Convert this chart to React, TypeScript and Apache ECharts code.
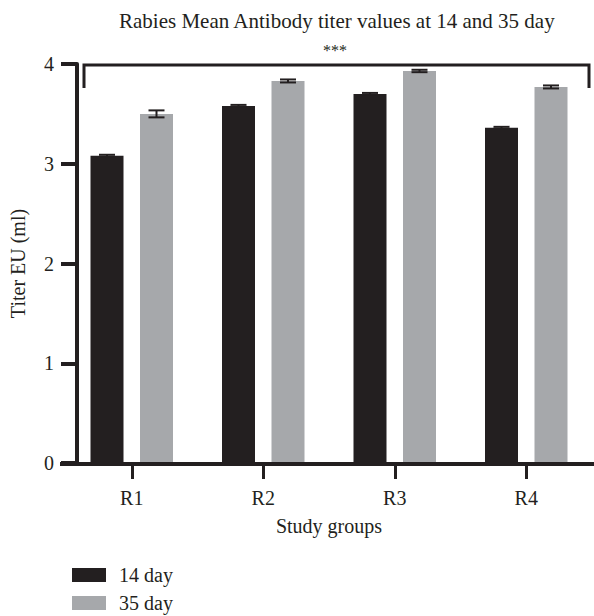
import React, { useEffect, useRef } from "react";
import * as echarts from "echarts";

const categories = ["R1", "R2", "R3", "R4"];
const day14 = [3.08, 3.58, 3.7, 3.36];
const day14Err = [0.01, 0.01, 0.01, 0.01];
const day35 = [3.5, 3.83, 3.93, 3.77];
const day35Err = [0.035, 0.015, 0.012, 0.015];
const yTicks = { min: 0, max: 4, interval: 1 };
const seriesNames = ["14 day", "35 day"];

const FONT = "'Liberation Serif', 'DejaVu Serif', serif";
const INK = "#231f20";
const GRAY = "#a6a8ab";
const BAR_W = 33;
const BAR_GAP = 16.5;
const FS = 20;

function errorSeries(means: number[], errs: number[], side: number) {
  return {
    type: "custom",
    silent: true,
    z: 5,
    xAxisIndex: 0,
    yAxisIndex: 0,
    data: means.map((m, i) => [i, m - errs[i], m + errs[i]]),
    renderItem: (params: any, api: any) => {
      const x = api.value(0);
      const lo = api.coord([x, api.value(1)]);
      const hi = api.coord([x, api.value(2)]);
      const cx = lo[0] + (side * (BAR_W + BAR_GAP)) / 2;
      const cap = 8;
      const style = { stroke: INK, lineWidth: 2 };
      return {
        type: "group",
        children: [
          { type: "line", shape: { x1: cx, y1: lo[1], x2: cx, y2: hi[1] }, style },
          { type: "line", shape: { x1: cx - cap, y1: lo[1], x2: cx + cap, y2: lo[1] }, style },
          { type: "line", shape: { x1: cx - cap, y1: hi[1], x2: cx + cap, y2: hi[1] }, style },
        ],
      };
    },
  };
}

function legendFor(name: string, top: number) {
  return {
    data: [name],
    left: 72,
    top,
    icon: "rect",
    itemWidth: 34,
    itemHeight: 14,
    padding: 0,
    selectedMode: false,
    textStyle: { fontFamily: FONT, fontSize: FS, color: INK, padding: [0, 0, 0, 8] },
  };
}

export default function App() {
  const ref = useRef<HTMLDivElement>(null);
  useEffect(() => {
    const chart = echarts.init(ref.current!, null, { renderer: "svg" });
    chart.setOption({
      animation: false,
      backgroundColor: "#fff",
      textStyle: { fontFamily: FONT, color: INK },
      title: {
        text: "Rabies Mean Antibody titer values at 14 and 35 day",
        left: 119,
        top: 10,
        padding: 0,
        textStyle: { fontFamily: FONT, fontSize: 21, fontWeight: "normal", color: INK },
      },
      legend: [legendFor(seriesNames[0], 565), legendFor(seriesNames[1], 593)],
      grid: [
        { left: 66, right: 2, top: 64, bottom: 153 },
        { left: 76, right: 2, top: 64, bottom: 153 },
      ],
      xAxis: [
        {
          type: "category",
          gridIndex: 0,
          data: categories,
          name: "Study groups",
          nameLocation: "middle",
          nameGap: 53,
          nameTextStyle: { fontFamily: FONT, fontSize: FS, color: INK },
          axisLine: { show: false },
          axisTick: { show: true, alignWithLabel: true, length: 16, lineStyle: { color: INK, width: 3 } },
          axisLabel: { fontFamily: FONT, fontSize: FS, color: INK, margin: 25 },
        },
        {
          type: "category",
          gridIndex: 1,
          data: categories,
          show: false,
        },
      ],
      yAxis: [
        {
          type: "value",
          gridIndex: 0,
          min: yTicks.min,
          max: yTicks.max,
          interval: yTicks.interval,
          show: false,
          splitLine: { show: false },
        },
        {
          type: "value",
          gridIndex: 1,
          min: yTicks.min,
          max: yTicks.max,
          interval: yTicks.interval,
          name: "Titer EU (ml)",
          nameLocation: "middle",
          nameGap: 49,
          nameTextStyle: { fontFamily: FONT, fontSize: FS, color: INK },
          splitLine: { show: false },
          axisLine: { show: true, lineStyle: { color: INK, width: 4 } },
          axisTick: { show: true, length: 16, lineStyle: { color: INK, width: 4 } },
          axisLabel: { fontFamily: FONT, fontSize: FS, color: INK, margin: 23 },
        },
      ],
      graphic: [
        { type: "line", shape: { x1: 60, y1: 464, x2: 594, y2: 464 }, style: { stroke: INK, lineWidth: 4 }, z: 10 },
        {
          type: "polyline",
          shape: { points: [[84, 88], [84, 65], [589, 65], [589, 88]] },
          style: { stroke: INK, lineWidth: 3, fill: null },
        },
        {
          type: "text",
          x: 335,
          y: 50,
          style: { text: "***", fontSize: 16, fontFamily: FONT, fill: INK, textAlign: "center", textVerticalAlign: "middle" },
        },
      ],
      series: [
        {
          name: seriesNames[0],
          type: "bar",
          xAxisIndex: 0,
          yAxisIndex: 0,
          data: day14,
          barWidth: BAR_W,
          barGap: "50%",
          itemStyle: { color: INK },
        },
        {
          name: seriesNames[1],
          type: "bar",
          xAxisIndex: 0,
          yAxisIndex: 0,
          data: day35,
          barWidth: BAR_W,
          barGap: "50%",
          itemStyle: { color: GRAY },
        },
        errorSeries(day14, day14Err, -1),
        errorSeries(day35, day35Err, 1),
      ],
    });
    return () => chart.dispose();
  }, []);
  return <div ref={ref} style={{ width: 594, height: 616, position: "absolute", left: 0, top: 0 }} />;
}
